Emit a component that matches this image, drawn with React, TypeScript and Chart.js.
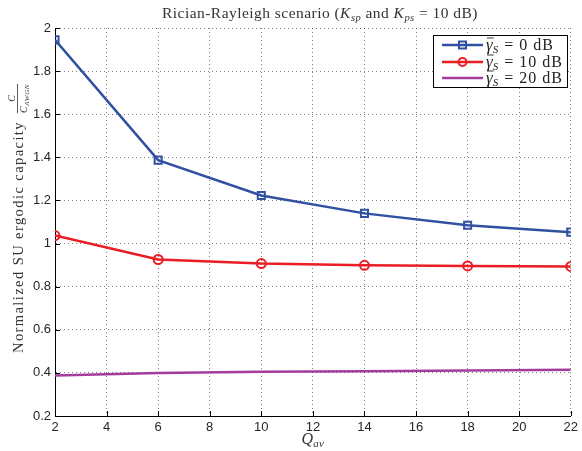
import React, { useEffect, useRef } from "react";
import { Chart, registerables } from "chart.js";

Chart.register(...registerables);

const qAv = [2, 6, 10, 14, 18, 22];
const gamma0 = [1.945, 1.387, 1.223, 1.14, 1.085, 1.053];
const gamma10 = [1.037, 0.926, 0.907, 0.899, 0.896, 0.894];
const gamma20 = [0.388, 0.4, 0.405, 0.408, 0.411, 0.414];
const legendLabels = ["0 dB", "10 dB", "20 dB"];

const BLUE = "#3050a2";
const RED = "#ea1c24";
const PURPLE = "#a43c9e";
const SERIF = '"Liberation Serif", "DejaVu Serif", serif';
const SANS = '"Liberation Sans", Arial, sans-serif';

type Seg = { t: string; s: number; it?: boolean; dy?: number };

function font(s: Seg) {
  return `${s.it ? "italic " : ""}${s.s}px ${SERIF}`;
}
function setLS(ctx: any, ls: number) {
  ctx.letterSpacing = `${ls.toFixed(2)}px`;
}
function segWidth(ctx: CanvasRenderingContext2D, segs: Seg[], ls: number) {
  let w = 0;
  setLS(ctx, ls);
  for (const s of segs) {
    ctx.font = font(s);
    w += ctx.measureText(s.t).width;
  }
  setLS(ctx, 0);
  return w;
}
function drawSegs(ctx: CanvasRenderingContext2D, segs: Seg[], x: number, y: number, ls: number) {
  let cx = x;
  setLS(ctx, ls);
  for (const s of segs) {
    ctx.font = font(s);
    ctx.fillText(s.t, cx, y + (s.dy || 0));
    cx += ctx.measureText(s.t).width;
  }
  setLS(ctx, 0);
  return cx;
}
function fitLS(ctx: CanvasRenderingContext2D, segs: Seg[], target: number) {
  const w0 = segWidth(ctx, segs, 0);
  const w1 = segWidth(ctx, segs, 1);
  const per = w1 - w0 > 0.5 ? w1 - w0 : segs.reduce((a, s) => a + s.t.length, 0);
  return Math.max(0, (target - w0) / per);
}

const decorPlugin = {
  id: "decor",
  afterDraw(chart: any) {
    const ctx: CanvasRenderingContext2D = chart.ctx;
    const ca = chart.chartArea;
    const xs = chart.scales.x;
    const ys = chart.scales.y;
    ctx.save();
    // inward ticks
    ctx.strokeStyle = "#000";
    ctx.lineWidth = 1;
    ctx.beginPath();
    ys.ticks.forEach((t: any) => {
      const y = Math.round(ys.getPixelForValue(t.value)) + 0.5;
      ctx.moveTo(ca.left, y);
      ctx.lineTo(ca.left + 5, y);
    });
    xs.ticks.forEach((t: any) => {
      const x = Math.round(xs.getPixelForValue(t.value)) + 0.5;
      ctx.moveTo(x, ca.bottom);
      ctx.lineTo(x, ca.bottom - 5);
    });
    ctx.stroke();

    ctx.fillStyle = "#333";
    ctx.textBaseline = "alphabetic";
    ctx.textAlign = "left";
    // title
    const title: Seg[] = [
      { t: "Rician-Rayleigh scenario (", s: 15.5 },
      { t: "K", s: 15.5, it: true },
      { t: "sp", s: 10.5, it: true, dy: 3 },
      { t: " and ", s: 15.5 },
      { t: "K", s: 15.5, it: true },
      { t: "ps", s: 10.5, it: true, dy: 3 },
      { t: " = 10 dB)", s: 15.5 },
    ];
    const cx = (ca.left + ca.right) / 2;
    const tls = fitLS(ctx, title, 316);
    drawSegs(ctx, title, 162, 18, tls);

    // x label
    const xl: Seg[] = [
      { t: "Q", s: 16, it: true },
      { t: "av", s: 11, it: true, dy: 3 },
    ];
    const xw = segWidth(ctx, xl, 0.3);
    drawSegs(ctx, xl, cx - xw / 2, 444, 0.3);

    // y label
    ctx.save();
    ctx.translate(19, 353);
    ctx.rotate(-Math.PI / 2);
    const mainSeg: Seg[] = [{ t: "Normalized SU ergodic capacity", s: 14.5 }];
    const mls = fitLS(ctx, mainSeg, 232);
    drawSegs(ctx, mainSeg, 0, 4, mls);
    const fx = 240;
    const den: Seg[] = [
      { t: "C", s: 10, it: true },
      { t: "AWGN", s: 7, it: true, dy: 2 },
    ];
    const dls = fitLS(ctx, den, 29);
    const dw = 29;
    const num: Seg[] = [{ t: "C", s: 10, it: true }];
    const nw = segWidth(ctx, num, 0);
    drawSegs(ctx, num, fx + dw / 2 - nw / 2, -4, 0);
    ctx.strokeStyle = "#333";
    ctx.lineWidth = 0.8;
    ctx.beginPath();
    ctx.moveTo(fx, -1.5);
    ctx.lineTo(fx + dw, -1.5);
    ctx.stroke();
    drawSegs(ctx, den, fx, 7.5, dls);
    ctx.restore();

    // legend
    const lx = 433, ly = 35, lw = 134, lh = 52;
    ctx.fillStyle = "#fff";
    ctx.fillRect(lx, ly, lw, lh);
    ctx.strokeStyle = "#000";
    ctx.lineWidth = 1;
    ctx.strokeRect(lx + 0.5, ly + 0.5, lw, lh);
    const colors = [BLUE, RED, PURPLE];
    const rows = [45, 62, 78];
    const rest = (i: number): Seg[] => [
      { t: "S", s: 11, it: true, dy: 3 },
      { t: " = " + legendLabels[i], s: 16 },
    ];
    const g: Seg[] = [{ t: "γ", s: 17, it: true }];
    const gw = segWidth(ctx, g, 0);
    const lls = fitLS(ctx, rest(1), 77 - gw);
    rows.forEach((ry, i) => {
      ctx.strokeStyle = colors[i];
      ctx.lineWidth = 2.5;
      ctx.beginPath();
      ctx.moveTo(442, ry);
      ctx.lineTo(483, ry);
      ctx.stroke();
      const mx = 462.5;
      ctx.lineWidth = 2;
      if (i === 0) {
        ctx.strokeRect(mx - 3.5, ry - 3.5, 7, 7);
      } else if (i === 1) {
        ctx.beginPath();
        ctx.arc(mx, ry, 4, 0, Math.PI * 2);
        ctx.stroke();
      }
      ctx.fillStyle = "#222";
      const gx = 486;
      const by = ry + 5;
      drawSegs(ctx, g, gx, by, 0);
      ctx.strokeStyle = "#222";
      ctx.lineWidth = 0.9;
      ctx.beginPath();
      ctx.moveTo(gx + 1, by - 12);
      ctx.lineTo(gx + gw + 1, by - 12);
      ctx.stroke();
      drawSegs(ctx, rest(i), gx + gw, by, lls);
    });
    ctx.restore();
  },
};

export default function App() {
  const ref = useRef<HTMLCanvasElement>(null);
  useEffect(() => {
    document.body.style.margin = "0";
    const mk = (d: number[]) => qAv.map((x, i) => ({ x, y: d[i] }));
    const chart = new Chart(ref.current!, {
      type: "line",
      data: {
        datasets: [
          {
            data: mk(gamma0),
            borderColor: BLUE,
            backgroundColor: "transparent",
            borderWidth: 2.5,
            pointStyle: "rect",
            pointRadius: 5,
            pointBorderWidth: 2,
            pointBorderColor: BLUE,
            pointBackgroundColor: "transparent",
          },
          {
            data: mk(gamma10),
            borderColor: RED,
            backgroundColor: "transparent",
            borderWidth: 2.5,
            pointStyle: "circle",
            pointRadius: 4.5,
            pointBorderWidth: 2,
            pointBorderColor: RED,
            pointBackgroundColor: "transparent",
          },
          {
            data: mk(gamma20),
            borderColor: PURPLE,
            backgroundColor: "transparent",
            borderWidth: 2.5,
            pointRadius: 0,
          },
        ],
      },
      options: {
        animation: false,
        responsive: false,
        events: [],
        layout: { padding: { left: 0, top: 28, right: 9, bottom: 0 } },
        plugins: { legend: { display: false }, title: { display: false }, tooltip: { enabled: false } },
        scales: {
          x: {
            type: "linear",
            min: 2,
            max: 22,
            ticks: {
              stepSize: 2,
              padding: 4,
              color: "#262626",
              font: { family: SANS, size: 13 },
            },
            grid: { color: "rgba(0,0,0,0.5)", drawTicks: false } as any,
            border: { display: true, color: "#000", width: 1, dash: [1, 3] } as any,
            afterFit: (s: any) => {
              s.height = 35;
            },
          },
          y: {
            type: "linear",
            min: 0.2,
            max: 2,
            ticks: {
              stepSize: 0.2,
              padding: 4,
              color: "#262626",
              font: { family: SANS, size: 13 },
              callback: (v: any) => String(Number(Number(v).toFixed(1))),
            },
            grid: { color: "rgba(0,0,0,0.5)", drawTicks: false } as any,
            border: { display: true, color: "#000", width: 1, dash: [1, 3] } as any,
            afterFit: (s: any) => {
              s.width = 55;
            },
          },
        },
      },
      plugins: [decorPlugin],
    });
    return () => chart.destroy();
  }, []);
  return (
    <div style={{ position: "absolute", left: 0, top: 0, width: 582, height: 451, background: "#fff" }}>
      <canvas ref={ref} width={582} height={451} style={{ width: 582, height: 451 }} />
    </div>
  );
}
